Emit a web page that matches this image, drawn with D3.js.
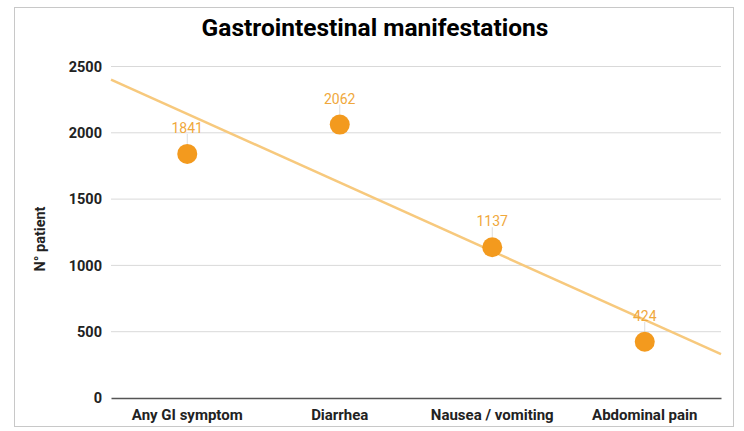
<!DOCTYPE html>
<html><head><meta charset="utf-8">
<script src="https://cdn.jsdelivr.net/npm/d3@7"></script>
<style>body{margin:0;background:#fff;font-family:Roboto,"Noto Sans",sans-serif;}</style>
</head><body>
<svg id="c" width="744" height="431"></svg>
<script>
const categories = ["Any GI symptom", "Diarrhea", "Nausea / vomiting", "Abdominal pain"];
const values = [1841, 2062, 1137, 424];
const yTicks = [0, 500, 1000, 1500, 2000, 2500];
const title = "Gastrointestinal manifestations";
const yLabel = "N° patient";

const svg = d3.select("#c");
const m = {left: 111, right: 23, top: 66.5, bottom: 33};
const W = 744, H = 431;

svg.append("rect").attr("x", 14.5).attr("y", 7.5).attr("width", 719).attr("height", 419)
  .attr("fill", "#fff").attr("stroke", "#c8c8c8").attr("stroke-width", 1);

const x = d3.scaleBand().domain(categories).range([m.left, W - m.right]).padding(0);
const y = d3.scaleLinear().domain([0, 2500]).range([H - m.bottom, m.top]);

// gridlines
svg.append("g").selectAll("line").data(yTicks.filter(d => d > 0)).join("line")
  .attr("x1", m.left).attr("x2", W - m.right)
  .attr("y1", d => y(d)).attr("y2", d => y(d))
  .attr("stroke", "#d9d9d9").attr("stroke-width", 1);

// y axis
const ya = svg.append("g").attr("transform", `translate(${m.left},0)`)
  .call(d3.axisLeft(y).tickValues(yTicks).tickFormat(d3.format("d")).tickSize(0).tickPadding(9));
ya.select(".domain").remove();
ya.selectAll("text").attr("font-size", 14.5).attr("font-weight", "bold").attr("fill", "#222")
  .attr("font-family", "Roboto, sans-serif");

// x axis
const xa = svg.append("g").attr("transform", `translate(0,${y(0)})`)
  .call(d3.axisBottom(x).tickSize(0).tickPadding(11));
xa.select(".domain").attr("stroke", "#555").attr("stroke-width", 1.5);
xa.selectAll("text").attr("font-size", 15).attr("font-weight", "bold").attr("fill", "#222")
  .attr("font-family", "Roboto, sans-serif");

// trendline (linear regression)
const n = values.length;
const xs = values.map((d, i) => i + 1);
const mx = d3.mean(xs), my = d3.mean(values);
const slope = d3.sum(xs.map((xi, i) => (xi - mx) * (values[i] - my))) / d3.sum(xs.map(xi => (xi - mx) ** 2));
const icpt = my - slope * mx;
const xi2px = d3.scaleLinear().domain([0.5, n + 0.5]).range([m.left, W - m.right]);
svg.append("line")
  .attr("x1", xi2px(0.5)).attr("y1", y(icpt + slope * 0.5))
  .attr("x2", xi2px(n + 0.5)).attr("y2", y(icpt + slope * (n + 0.5)))
  .attr("stroke", "#f7c97d").attr("stroke-width", 2.5);

// leader lines
svg.append("g").selectAll("line").data(values).join("line")
  .attr("x1", (d, i) => x(categories[i]) + x.bandwidth() / 2)
  .attr("x2", (d, i) => x(categories[i]) + x.bandwidth() / 2)
  .attr("y1", d => y(d) - 20).attr("y2", d => y(d) - 10)
  .attr("stroke", "#dddddd").attr("stroke-width", 1);

// dots
svg.append("g").selectAll("circle").data(values).join("circle")
  .attr("cx", (d, i) => x(categories[i]) + x.bandwidth() / 2)
  .attr("cy", d => y(d)).attr("r", 10)
  .attr("fill", "#f39a1e");

// labels
svg.append("g").selectAll("text").data(values).join("text")
  .attr("x", (d, i) => x(categories[i]) + x.bandwidth() / 2)
  .attr("y", d => y(d) - 21)
  .attr("text-anchor", "middle").attr("font-size", 14).attr("fill", "#f0a83c")
  .attr("font-family", "Roboto, sans-serif")
  .text(d => d);

// title
svg.append("text").attr("x", 375).attr("y", 36).attr("text-anchor", "middle")
  .attr("font-size", 24.5).attr("font-weight", "bold").attr("fill", "#000")
  .attr("font-family", "Roboto, sans-serif").text(title);

// y label
svg.append("text").attr("transform", "translate(45,239) rotate(-90)")
  .attr("text-anchor", "middle").attr("font-size", 14.5).attr("font-weight", "bold").attr("fill", "#222")
  .attr("font-family", "Roboto, sans-serif").text(yLabel);
</script>
</body></html>
